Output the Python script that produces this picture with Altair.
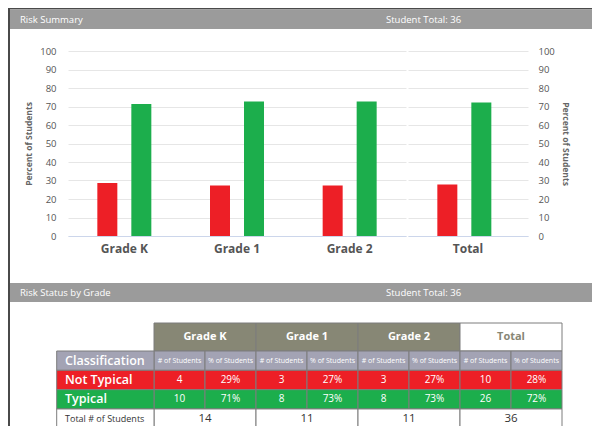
import altair as alt
import pandas as pd

# ---------------- data ----------------
grades = ["Grade K", "Grade 1", "Grade 2"]
statuses = ["Not Typical", "Typical"]
pct_not_typical = [28.6, 27.3, 27.3]
pct_typical = [71.4, 72.7, 72.7]
total_label = "Total"
total_pct = [27.8, 72.2]

count_not_typical = [4, 3, 3]
count_typical = [10, 8, 8]
count_all = [14, 11, 11]
table_pct_not_typical = ["29%", "27%", "27%"]
table_pct_typical = ["71%", "73%", "73%"]
total_counts = [10, 26, 36]
total_table_pct = ["28%", "72%"]

student_total_text = "Student Total: 36"
sub_headers = ["# of Students", "% of Students"]

# ---------------- style ----------------
RED = "#ed1f26"
GREEN = "#1cae4c"
OLIVE = "#878775"
LAV = "#a3a3b4"
HEAD = "#9b9b9b"
FRAME = "#4a4a4a"
FONT = "Open Sans"
OX = 60          # distance from the frame to the bar plot's left edge
W = 584          # overall width
WR = W - OX      # width right of the plot origin

one = alt.Data(values=[{"a": 0}])


def frame_left(h):
    return alt.Chart(one).mark_rect(color=FRAME).encode(
        x=alt.value(-OX), x2=alt.value(-OX + 2), y=alt.value(0), y2=alt.value(h))


def header_layers(title, top):
    base = alt.Chart(one)
    return [
        base.mark_rect(color=HEAD).encode(
            x=alt.value(-OX + 2), x2=alt.value(WR), y=alt.value(top),
            y2=alt.value(top + 19)),
        base.mark_text(text=title, align="left", baseline="middle", font=FONT,
                       fontSize=9.5, color="white").encode(
            x=alt.value(-OX + 12), y=alt.value(top + 10)),
        base.mark_text(text=student_total_text, align="left", baseline="middle",
                       font=FONT, fontSize=9.5, color="white").encode(
            x=alt.value(378 - OX), y=alt.value(top + 10)),
    ]


top_line = alt.Chart(one).mark_rect(color=FRAME).encode(
    x=alt.value(-OX), x2=alt.value(WR), y=alt.value(0), y2=alt.value(1.5))
header1 = alt.layer(frame_left(21), top_line, *header_layers("Risk Summary", 2)
                    ).properties(width=WR, height=21)

# ---------------- bar charts ----------------
PLOT_H = 207
Y_RANGE = [207, 22]
ROW_H = 254


def bar_panel(cats, nt, ty, width, sep, orient, label_pad):
    df = pd.DataFrame({
        "grade": cats * 2,
        "status": [statuses[0]] * len(cats) + [statuses[1]] * len(cats),
        "pct": list(nt) + list(ty),
    })
    step = width / len(cats)
    bw = 20.0
    pi = 1 - bw / sep
    po = (step / sep - (2 - pi)) / 2
    yaxis = alt.Axis(orient=orient, values=list(range(0, 101, 10)), ticks=False,
                     domain=False, grid=True, gridColor="#e6e6e6", gridWidth=1,
                     labelFont=FONT, labelFontSize=9.5, labelColor="#555",
                     labelPadding=label_pad, title="Percent of Students",
                     titleFont=FONT, titleFontSize=8.5, titleFontWeight="bold",
                     titleColor="#666", titlePadding=6)
    return alt.Chart(df).mark_bar().encode(
        x=alt.X("grade:N", sort=cats,
                scale=alt.Scale(paddingInner=0, paddingOuter=0),
                axis=alt.Axis(title=None, labelAngle=0, labelFont=FONT,
                              labelFontSize=12, labelFontWeight="bold",
                              labelColor="#555", ticks=False,
                              domainColor="#ccd6eb", labelPadding=7)),
        xOffset=alt.XOffset("status:N", sort=statuses,
                            scale=alt.Scale(paddingInner=pi, paddingOuter=po)),
        y=alt.Y("pct:Q", scale=alt.Scale(domain=[0, 100], range=Y_RANGE), axis=yaxis),
        color=alt.Color("status:N", scale=alt.Scale(domain=statuses, range=[RED, GREEN]),
                        legend=None),
    ).properties(width=width, height=PLOT_H)


grades_chart = alt.layer(
    frame_left(ROW_H),
    bar_panel(grades, pct_not_typical, pct_typical, 338, 34, "left", 12),
).properties(width=338, height=PLOT_H)
total_chart = bar_panel([total_label], [total_pct[0]], [total_pct[1]], 120, 37.5,
                        "right", 10)
bar_row = alt.hconcat(grades_chart, total_chart, spacing=2)

# ---------------- table ----------------
cells = []
ROWL = 0.163


def add(x0, x1, y0, y1, fill, text, tcolor, size, style):
    cells.append({"x0": x0, "x1": x1, "y0": y0, "y1": y1, "fill": fill,
                  "text": str(text), "tcolor": tcolor, "size": size, "style": style,
                  "tx": (x0 + x1) / 2 if style.startswith("c") else x0 + ROWL,
                  "ty": (y0 + y1) / 2})


CLS = -97.3 / 51
HDR = -28 / 19.33
group_names = grades + [total_label]
nt_counts = count_not_typical + [total_counts[0]]
ty_counts = count_typical + [total_counts[1]]
nt_pcts = table_pct_not_typical + [total_table_pct[0]]
ty_pcts = table_pct_typical + [total_table_pct[1]]
all_counts = count_all + [total_counts[2]]

for i, g in enumerate(group_names):
    is_tot = g == total_label
    add(2 * i, 2 * i + 2, HDR, 0, "white" if is_tot else OLIVE, g,
        OLIVE if is_tot else "white", 11, "cb")
    for j, s in enumerate(sub_headers):
        add(2 * i + j, 2 * i + j + 1, 0, 1, LAV, s, "white", 7, "c")
    add(2 * i, 2 * i + 1, 1, 2, RED, nt_counts[i], "white", 10, "c")
    add(2 * i + 1, 2 * i + 2, 1, 2, RED, nt_pcts[i], "white", 10, "c")
    add(2 * i, 2 * i + 1, 2, 3, GREEN, ty_counts[i], "white", 10, "c")
    add(2 * i + 1, 2 * i + 2, 2, 3, GREEN, ty_pcts[i], "white", 10, "c")
    add(2 * i, 2 * i + 2, 3, 4, "white", all_counts[i], "#333", 11.5, "c")

add(CLS, 0, 0, 1, LAV, "Classification", "white", 12.5, "lb")
add(CLS, 0, 1, 2, RED, statuses[0], "white", 12.5, "lb")
add(CLS, 0, 2, 3, GREEN, statuses[1], "white", 12.5, "lb")
add(CLS, 0, 3, 4, "white", "Total # of Students", "#333", 9, "l")

tdf = pd.DataFrame(cells)
TABLE_H = 150
xs = alt.Scale(domain=[0, 8], range=[146 - OX, 554 - OX], zero=False, nice=False)
ys = alt.Scale(domain=[0, 4], range=[68, 145.3], zero=False, nice=False)

tbase = alt.Chart(tdf)
rects = tbase.mark_rect(stroke="#7d7d7d", strokeWidth=1).encode(
    x=alt.X("x0:Q", scale=xs, axis=None), x2="x1",
    y=alt.Y("y0:Q", scale=ys, axis=None), y2="y1",
    fill=alt.Fill("fill:N", scale=None))


def text_layer(style, align, weight):
    return tbase.transform_filter(alt.datum.style == style).mark_text(
        font=FONT, baseline="middle", align=align, fontWeight=weight).encode(
        x=alt.X("tx:Q", scale=xs, axis=None),
        y=alt.Y("ty:Q", scale=ys, axis=None),
        text="text:N",
        color=alt.Color("tcolor:N", scale=None),
        size=alt.Size("size:Q", scale=None))


table = alt.layer(
    frame_left(TABLE_H), *header_layers("Risk Status by Grade", 0), rects,
    text_layer("c", "center", "normal"),
    text_layer("cb", "center", "bold"),
    text_layer("lb", "left", 600),
    text_layer("l", "left", "normal"),
).properties(width=WR, height=TABLE_H)

chart = alt.vconcat(
    header1, bar_row, table, spacing=0, padding=0,
).configure_view(stroke=None)

chart.save("out.html", embed_options={"renderer": "svg", "actions": False})
